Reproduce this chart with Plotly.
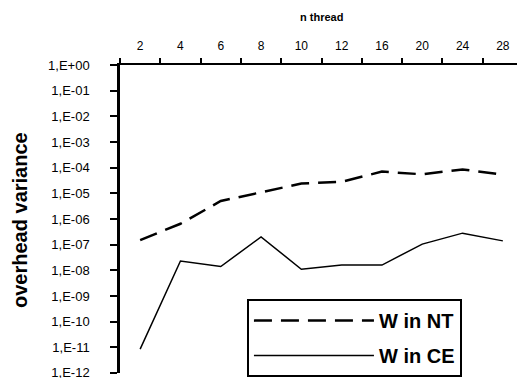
import plotly.graph_objects as go

threads = ["2", "4", "6", "8", "10", "12", "16", "20", "24", "28"]
w_in_nt = [1.5e-7, 6.5e-7, 5.0e-6, 1.1e-5, 2.4e-5, 2.8e-5, 7.0e-5, 5.5e-5, 8.5e-5, 5.3e-5]
w_in_ce = [8.5e-12, 2.3e-8, 1.4e-8, 2.0e-7, 1.1e-8, 1.6e-8, 1.6e-8, 1.05e-7, 2.8e-7, 1.4e-7]
y_exponents = list(range(0, -13, -1))
y_tickvals = [10.0 ** e for e in y_exponents]
y_ticktext = ["1,E+00" if e == 0 else "1,E-%02d" % (-e) for e in y_exponents]

FONT = "Liberation Sans, Arial, sans-serif"

fig = go.Figure()
fig.add_trace(go.Scatter(x=threads, y=w_in_nt, mode="lines", name="W in NT", legendgroup="nt",
                         line=dict(color="black", width=2.5, dash="18px,9px")))
fig.add_trace(go.Scatter(x=threads, y=w_in_ce, mode="lines", name="W in CE", legendgroup="ce",
                         line=dict(color="black", width=1.5)))

# the page has an 8px body margin: the figure is offset by 8px, margins compensate
fig.update_layout(
    width=525, height=378,
    margin=dict(l=112, r=10, t=57, b=13, autoexpand=False),
    paper_bgcolor="white", plot_bgcolor="white",
    font=dict(family=FONT, color="black", size=11),
    showlegend=True,
    legend=dict(x=0.315, y=0.24, xanchor="left", yanchor="top",
                bordercolor="black", borderwidth=2, bgcolor="white",
                font=dict(family=FONT, size=20, weight="bold"),
                itemwidth=120, tracegroupgap=6, traceorder="grouped"),
    xaxis=dict(type="category", side="top", range=[-0.5, 9.5], automargin=False,
               showline=True, linecolor="black", linewidth=2,
               ticks="outside", tickson="boundaries", ticklen=5, tickwidth=2,
               tickcolor="black", showgrid=False, zeroline=False, ticklabelstandoff=8,
               tickfont=dict(size=12, family=FONT)),
    yaxis=dict(type="log", range=[-12.003, 0.0005], tickvals=y_tickvals, ticktext=y_ticktext,
               automargin=False,
               showline=True, linecolor="black", linewidth=2.5,
               ticks="outside", ticklen=7, tickwidth=2, tickcolor="black",
               showgrid=False, zeroline=False, ticklabelstandoff=18,
               tickfont=dict(size=13, family=FONT)),
    annotations=[
        dict(text="n thread", xref="paper", yref="paper", x=0.5, y=1.156,
             xanchor="center", yanchor="middle", showarrow=False,
             font=dict(family=FONT, size=11, weight="bold")),
        dict(text="overhead variance", xref="paper", yref="paper", x=-0.248, y=0.497,
             xanchor="center", yanchor="middle", textangle=-90, showarrow=False,
             font=dict(family=FONT, size=20, weight="bold")),
    ],
)

fig.write_html("out.html")
